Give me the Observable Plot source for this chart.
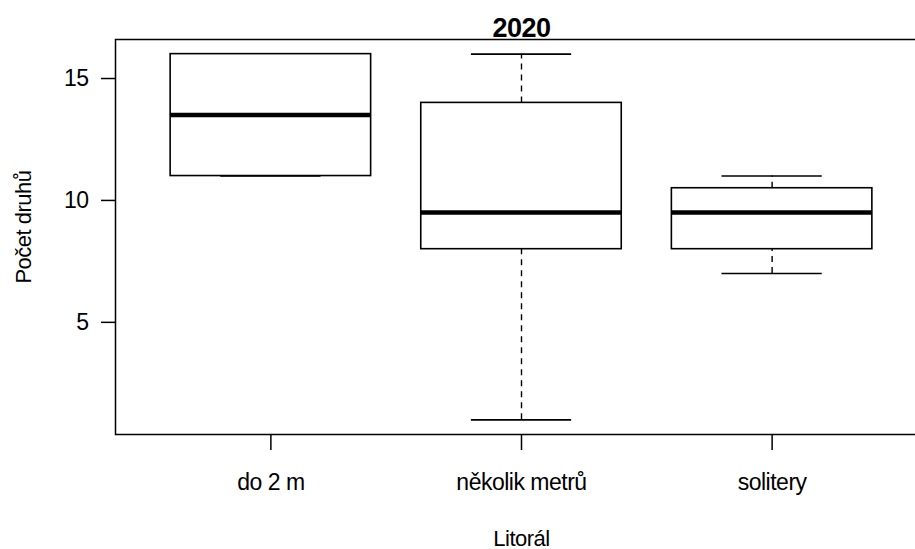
<!DOCTYPE html>
<html>
<head>
<meta charset="utf-8">
<script src="https://cdn.jsdelivr.net/npm/d3@7"></script>
<script src="https://cdn.jsdelivr.net/npm/@observablehq/plot@0.6"></script>
<style>
  html, body { margin: 0; padding: 0; background: #fff; overflow: hidden; }
  svg { overflow: hidden; }
  svg text { letter-spacing: -0.5px; }
</style>
</head>
<body>
<div id="chart"></div>
<script>
// Species counts per littoral type, summarised as box plots
const categories = ["do 2 m", "několik metrů", "solitery"];
const whiskerLow = [11, 1, 7];
const lowerQuartile = [11, 8, 8];
const medians = [13.5, 9.5, 9.5];
const upperQuartile = [16, 14, 10.5];
const whiskerHigh = [16, 16, 11];
const yTicks = [5, 10, 15];
const title = "2020";
const xTitle = "Litorál";
const yTitle = "Počet druhů";

const groups = categories.map((name, i) => ({
  name,
  pos: i + 1,
  lo: whiskerLow[i],
  q1: lowerQuartile[i],
  med: medians[i],
  q3: upperQuartile[i],
  hi: whiskerHigh[i]
}));

// Axis limits padded by 4% as in a classic boxplot
const yMin = d3.min(whiskerLow), yMax = d3.max(whiskerHigh);
const yPad = (yMax - yMin) * 0.04;
const xLo = 0.5, xHi = categories.length + 0.5;
const xPad = (xHi - xLo) * 0.04;

const boxHalf = 0.4, capHalf = 0.2;
const font = "'Liberation Sans', Arial, sans-serif";

const chart = Plot.plot({
  width: 915,
  height: 549,
  marginLeft: 115,
  marginTop: 39,
  marginBottom: 115,
  marginRight: -12,
  style: { fontFamily: font, fontSize: "23px", color: "black", background: "white" },
  x: { type: "linear", domain: [xLo - xPad, xHi + xPad], axis: null },
  y: { domain: [yMin - yPad, yMax + yPad], axis: null },
  marks: [
    // whiskers (dashed) from hinges to extremes
    Plot.ruleX(groups, { x: "pos", y1: "q3", y2: "hi", stroke: "black", strokeWidth: 1.4, strokeDasharray: "6,5" }),
    Plot.ruleX(groups, { x: "pos", y1: "lo", y2: "q1", stroke: "black", strokeWidth: 1.4, strokeDasharray: "6,5" }),
    // whisker caps
    Plot.ruleY(groups, { y: "hi", x1: d => d.pos - capHalf, x2: d => d.pos + capHalf, stroke: "black", strokeWidth: 1.6 }),
    Plot.ruleY(groups, { y: "lo", x1: d => d.pos - capHalf, x2: d => d.pos + capHalf, stroke: "black", strokeWidth: 1.6 }),
    // boxes
    Plot.rect(groups, { x1: d => d.pos - boxHalf, x2: d => d.pos + boxHalf, y1: "q1", y2: "q3", fill: "white", stroke: "black", strokeWidth: 1.6 }),
    // medians
    Plot.ruleY(groups, { y: "med", x1: d => d.pos - boxHalf, x2: d => d.pos + boxHalf, stroke: "black", strokeWidth: 4.5 }),
    // axes
    Plot.axisY({ ticks: yTicks, tickSize: 14, tickPadding: 13, strokeWidth: 1.5, label: null, fontSize: 23 }),
    Plot.axisX({ ticks: groups.map(d => d.pos), tickFormat: d => categories[d - 1], tickSize: 16, tickPadding: 23, strokeWidth: 1.5, label: null, fontSize: 23 }),
    Plot.frame({ stroke: "black", strokeWidth: 1.5 }),
    // titles
    Plot.text([title], { frameAnchor: "top", dy: -21.5, fontSize: 27, fontWeight: "bold", fill: "black" }),
    Plot.text([xTitle], { frameAnchor: "bottom", dy: 111, fontSize: 22, fill: "black" }),
    Plot.text([yTitle], { frameAnchor: "left", textAnchor: "middle", dx: -92, dy: -10, rotate: -90, fontSize: 22, fill: "black" })
  ]
});

document.getElementById("chart").appendChild(chart);
</script>
</body>
</html>
